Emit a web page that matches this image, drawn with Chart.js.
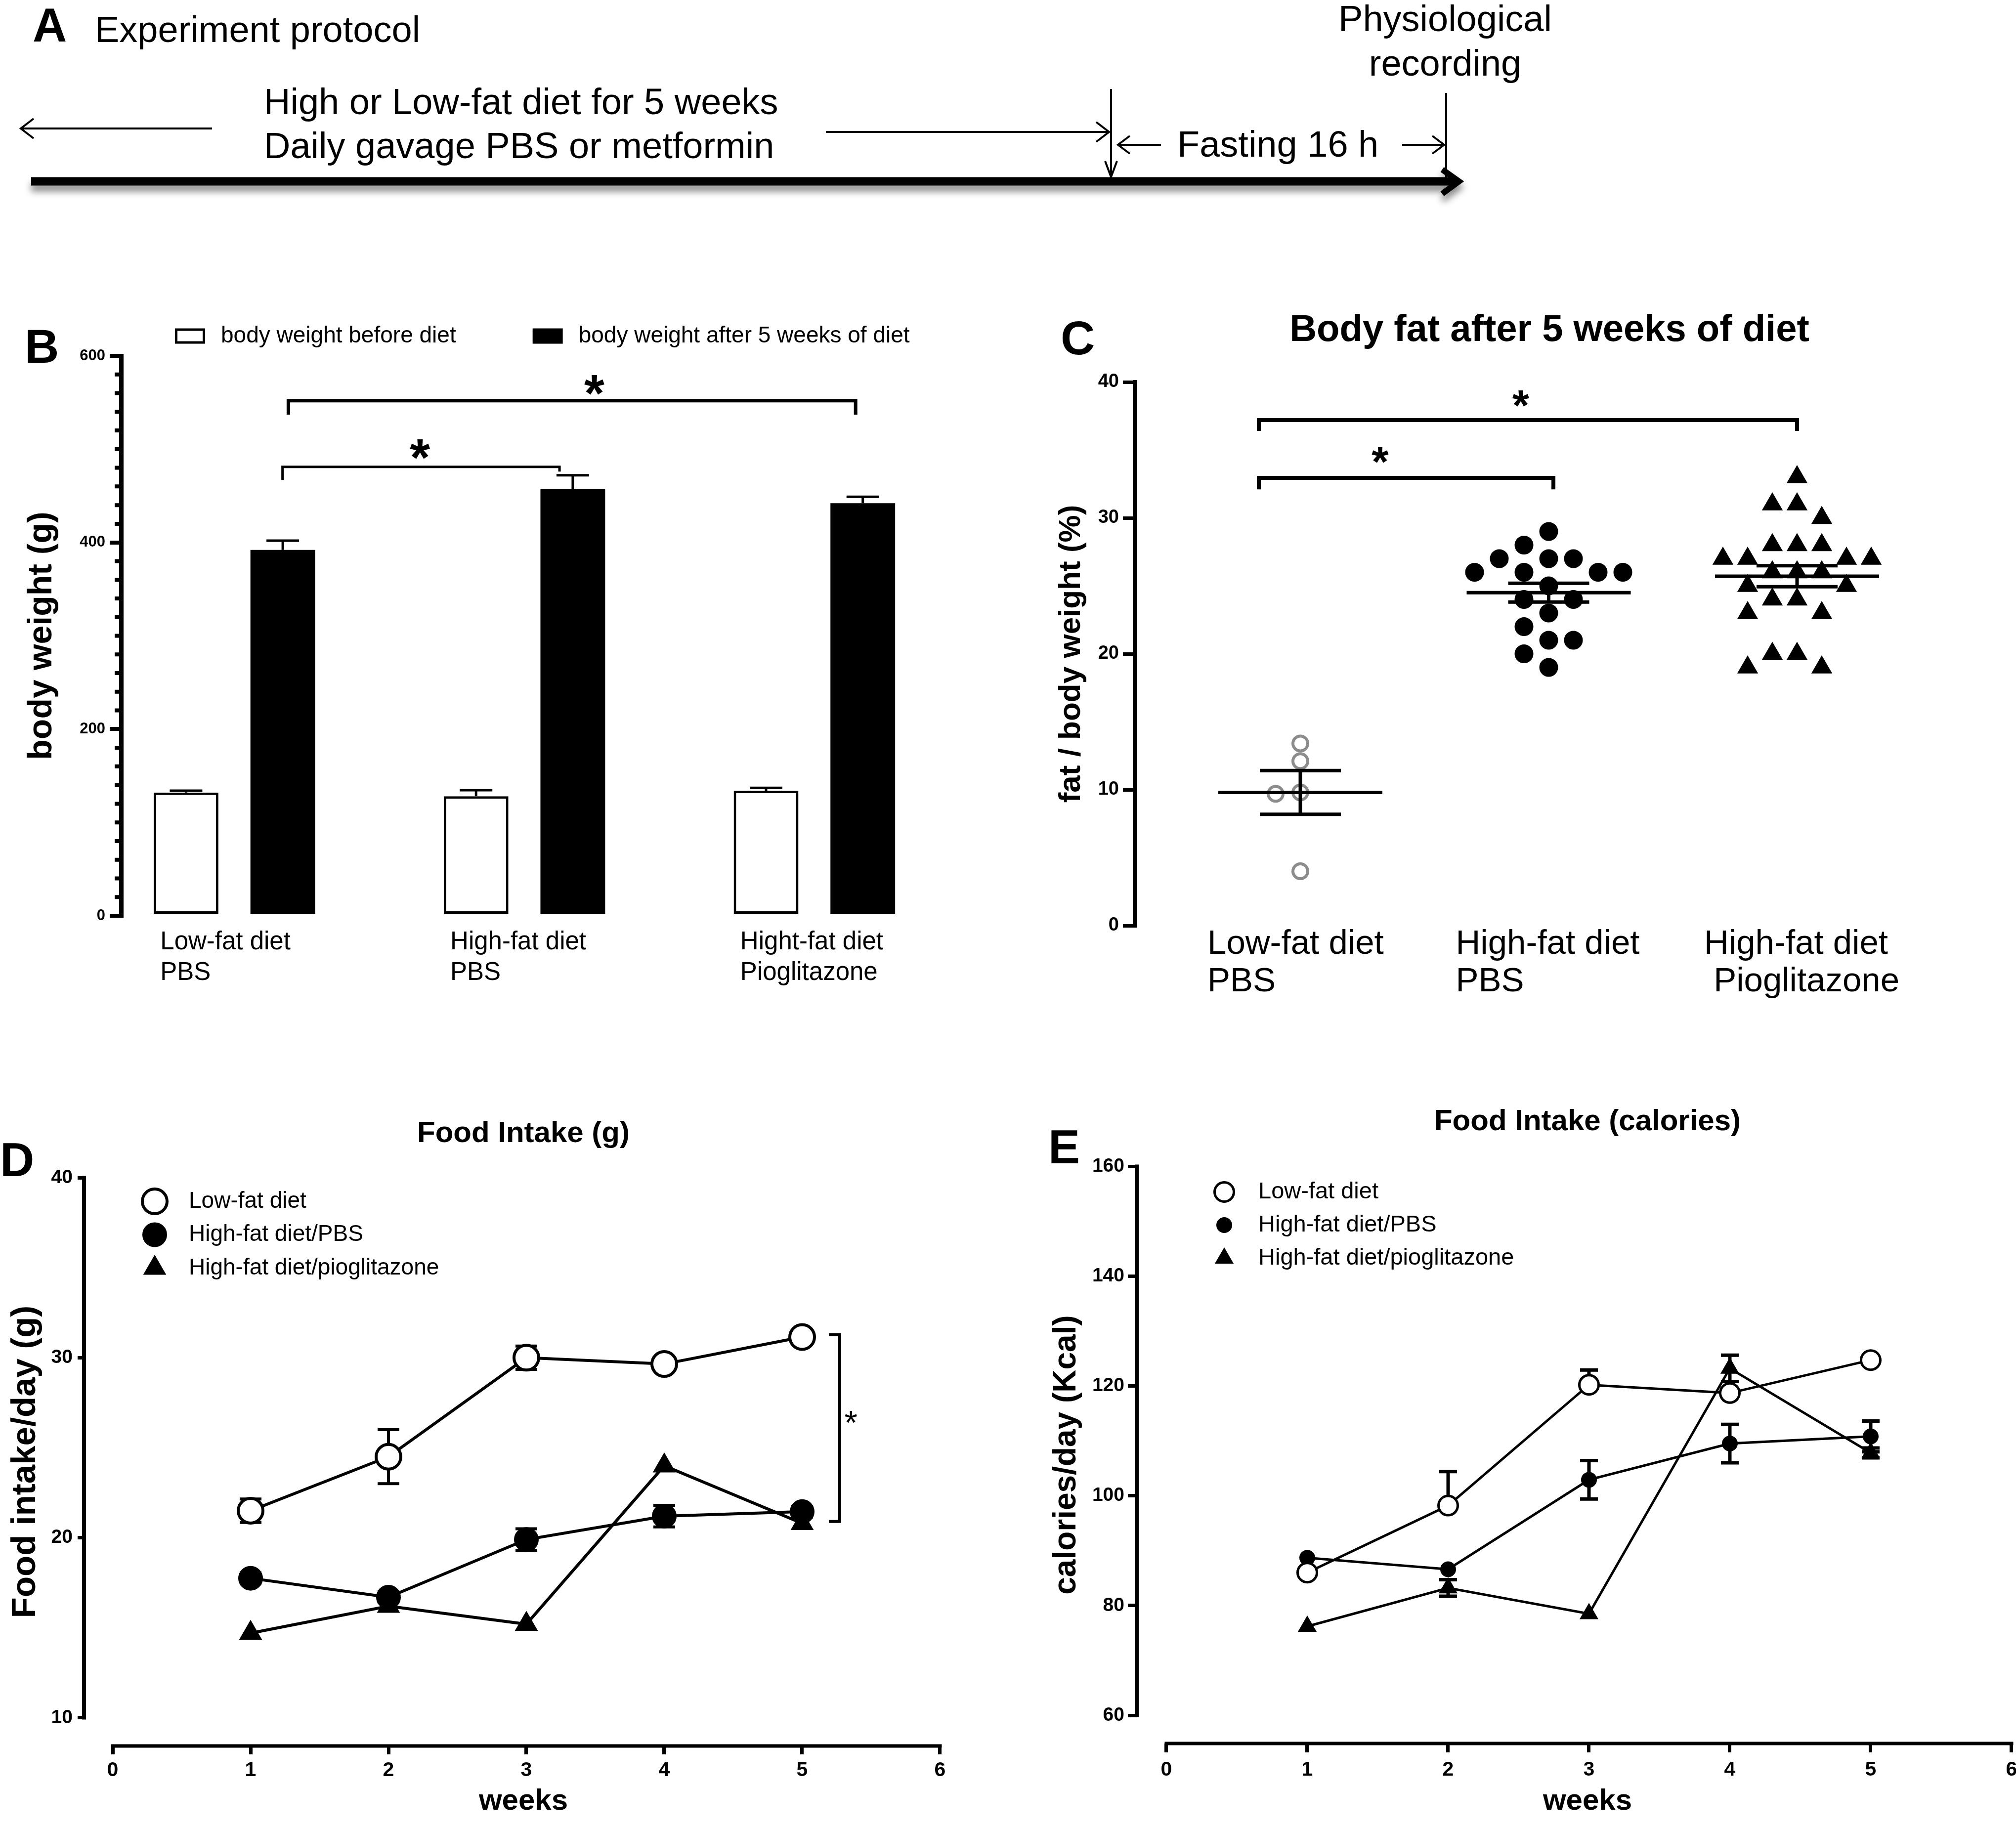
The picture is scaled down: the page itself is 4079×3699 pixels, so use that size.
<!DOCTYPE html>
<html>
<head>
<meta charset="utf-8">
<title>Diet, body weight, body fat and food intake</title>
<script src="https://cdn.jsdelivr.net/npm/chart.js@4.4.1/dist/chart.umd.min.js"></script>
<style>
  html, body { margin: 0; padding: 0; background: #fff; overflow: hidden; }
  #page { position: relative; width: 4079px; height: 3699px; overflow: hidden; background: #fff;
          font-family: "Liberation Sans", Arial, Helvetica, sans-serif; color: #000; }
  canvas { position: absolute; }
  .tag { position: absolute; font-weight: bold; font-size: 96px; line-height: 1; }
  svg { position: absolute; left: 0; top: 0; }
</style>
</head>
<body>
<div id="page">

  <!-- panel A: protocol timeline -->
  <svg width="4079" height="420" viewBox="0 0 4079 420" font-family='"Liberation Sans", Arial, sans-serif'>
    <defs>
      <filter id="shadow" x="-2%" y="-200%" width="104%" height="500%">
        <feDropShadow dx="0" dy="12" stdDeviation="7" flood-color="#000" flood-opacity="0.45"/>
      </filter>
    </defs>
    <text x="66" y="84" font-size="96" font-weight="bold">A</text>
    <text x="192" y="85" font-size="74">Experiment protocol</text>
    <text x="2924" y="63" font-size="74" text-anchor="middle">Physiological</text>
    <text x="2924" y="153" font-size="74" text-anchor="middle">recording</text>
    <text x="534" y="231" font-size="74">High or Low-fat diet for 5 weeks</text>
    <text x="534" y="320" font-size="74">Daily gavage PBS or metformin</text>
    <text x="2382" y="317" font-size="74">Fasting 16 h</text>
    <g stroke="#000" stroke-width="4" fill="none">
      <path d="M429 260 H42 M68 240 L42 260 L68 280"/>
      <path d="M1671 267 H2244 M2218 247 L2244 267 L2218 287"/>
      <path d="M2248 180 V358 M2236 326 L2248 358 L2260 326"/>
      <path d="M2349 293 H2262 M2286 275 L2262 293 L2286 311"/>
      <path d="M2837 293 H2922 M2898 275 L2922 293 L2898 311"/>
      <path d="M2926 188 V360"/>
    </g>
    <g filter="url(#shadow)" stroke="#000" fill="none">
      <path d="M63 367 H2946" stroke-width="17"/>
      <path d="M2918 343 L2952 367 L2918 392" stroke-width="12"/>
    </g>
  </svg>

  <div class="tag" style="left:50px;top:653px">B</div>
  <div class="tag" style="left:2146px;top:636px">C</div>
  <div class="tag" style="left:0px;top:2299px">D</div>
  <div class="tag" style="left:2121px;top:2273px">E</div>

  <canvas id="fig-b" width="1960" height="1500" style="left:0px;top:600px"></canvas>
  <canvas id="fig-c" width="2070" height="1500" style="left:2100px;top:600px"></canvas>
  <canvas id="fig-d" width="2118" height="1499" style="left:0px;top:2200px"></canvas>
  <canvas id="fig-e" width="2224" height="1549" style="left:2100px;top:2150px"></canvas>
</div>

<script>
// ---------- data ----------

// B: body weight (g), mean and SEM
const groupLabels = [['Low-fat diet', 'PBS'], ['High-fat diet', 'PBS'], ['Hight-fat diet', 'Pioglitazone']];
const weightBefore = [132, 128, 134];
const weightBeforeSem = [2, 6.5, 3];
const weightAfter = [392, 457, 442];
const weightAfterSem = [10, 15, 7];
const weightTicks = [0, 200, 400, 600];

// C: body fat (% of body weight), one value per animal
const fatGroupLabels = [['Low-fat diet', 'PBS'], ['High-fat diet', 'PBS'], ['High-fat diet', ' Pioglitazone']];
const fatLowPbs = [13.4, 12.1, 9.8, 9.7, 4.0];
const fatHighPbs = [29, 28, 27, 27, 27, 26, 26, 26, 26, 25, 24, 24, 23, 22, 21, 21, 20, 19];
const fatHighPio = [33, 31, 31, 30, 28, 28, 28, 27, 27, 27, 27, 26, 26, 26, 25, 25, 24, 24, 23, 23, 20, 20, 19, 19];
const fatTicks = [0, 10, 20, 30, 40];

// D and E: food intake per week
const weeks = [1, 2, 3, 4, 5];
const weekTicks = [0, 1, 2, 3, 4, 5, 6];
const seriesNames = ['Low-fat diet', 'High-fat diet/PBS', 'High-fat diet/pioglitazone'];

const gramsLow = [21.5, 24.5, 30.0, 29.65, 31.15];
const gramsLowSem = [0.65, 1.5, 0.65, 0.3, 0.3];
const gramsPbs = [17.75, 16.7, 19.9, 21.2, 21.45];
const gramsPbsSem = [0.3, 0.3, 0.6, 0.6, 0.3];
const gramsPio = [14.7, 16.2, 15.2, 24.0, 20.8];
const gramTicks = [10, 20, 30, 40];

const kcalLow = [86.0, 98.2, 120.2, 118.7, 124.7];
const kcalLowSemUp = [0, 6.2, 2.7, 0, 0];
const kcalPbs = [88.7, 86.6, 102.9, 109.5, 110.8];
const kcalPbsSem = [0, 0, 3.5, 3.5, 2.8];
const kcalPio = [76.2, 83.2, 78.5, 123.2, 107.8];
const kcalPioSem = [0, 1.5, 0, 2.4, 0.9];
const kcalTicks = [60, 80, 100, 120, 140, 160];

// ---------- setup ----------

const FONT = '"Liberation Sans", Arial, Helvetica, sans-serif';
Chart.defaults.font.family = FONT;
Chart.defaults.color = '#000';
Chart.defaults.animation = false;
Chart.defaults.events = [];
Chart.defaults.plugins.legend.display = false;
Chart.defaults.plugins.tooltip.enabled = false;

function fixWidth(w) { return s => { s.width = w; }; }
function fixHeight(h) { return s => { s.height = h; }; }
function setTicks(values) { return s => { s.ticks = values.map(v => ({ value: v })); }; }

// empty right-hand axis, so the title and the x axis share one centre
function blankAxis(width) {
  return { position: 'right', display: true, afterFit: fixWidth(width),
           grid: { display: false }, border: { display: false }, ticks: { display: false } };
}

function drawMarker(ctx, ds, px, py) {
  const r = ds.pointRadius;
  ctx.beginPath();
  if (ds.pointStyle === 'triangle') {
    ctx.moveTo(px, py - r);
    ctx.lineTo(px + r * 0.866, py + r / 2);
    ctx.lineTo(px - r * 0.866, py + r / 2);
    ctx.closePath();
  } else {
    ctx.arc(px, py, r, 0, Math.PI * 2);
  }
  ctx.fillStyle = ds.pointBackgroundColor;
  ctx.fill();
  if (ds.pointBorderWidth) {
    ctx.lineWidth = ds.pointBorderWidth;
    ctx.strokeStyle = ds.pointBorderColor;
    ctx.stroke();
  }
}

function drawStar(ctx, px, py, size, weight) {
  ctx.font = `${weight} ${size}px ${FONT}`;
  ctx.textAlign = 'left';
  ctx.textBaseline = 'alphabetic';
  const m = ctx.measureText('*');
  const x = px + (m.actualBoundingBoxLeft - m.actualBoundingBoxRight) / 2;
  const y = py + (m.actualBoundingBoxAscent - m.actualBoundingBoxDescent) / 2;
  ctx.fillText('*', x, y);
}

// ---------- plugins ----------

function drawSem(chart, o) {
  const { ctx, scales: { y } } = chart;
  ctx.save();
  ctx.strokeStyle = '#000';
  ctx.lineWidth = o.width;
  ctx.lineCap = 'butt';
  chart.data.datasets.forEach((ds, di) => {
    if (!ds.errUp && !ds.errDown) return;
    chart.getDatasetMeta(di).data.forEach((el, i) => {
      const v = ds.data[i].y;
      [[ds.errUp, 1], [ds.errDown, -1]].forEach(([errs, sign]) => {
        if (!errs || !errs[i]) return;
        const end = y.getPixelForValue(v + sign * errs[i]);
        ctx.beginPath();
        ctx.moveTo(el.x, y.getPixelForValue(v));
        ctx.lineTo(el.x, end);
        ctx.moveTo(el.x - o.cap, end);
        ctx.lineTo(el.x + o.cap, end);
        ctx.stroke();
      });
    });
  });
  ctx.restore();
}

const semBars = {
  id: 'semBars',
  beforeDatasetsDraw(chart, args, o) { if (o.width && !o.front) drawSem(chart, o); },
  afterDatasetsDraw(chart, args, o) { if (o.width && o.front) drawSem(chart, o); }
};

const minorTicks = {
  id: 'minorTicks',
  afterDraw(chart, args, o) {
    const { ctx, chartArea, scales: { y } } = chart;
    ctx.save();
    ctx.strokeStyle = '#000';
    ctx.lineWidth = o.width;
    ctx.beginPath();
    for (let v = y.min + o.step; v < y.max; v += o.step) {
      if (o.skip.includes(v)) continue;
      const py = y.getPixelForValue(v);
      ctx.moveTo(chartArea.left - o.length, py);
      ctx.lineTo(chartArea.left, py);
    }
    ctx.stroke();
    ctx.restore();
  }
};

// axis lines that run only between the first and the last tick
const offsetAxes = {
  id: 'offsetAxes',
  afterDraw(chart, args, o) {
    const { ctx, chartArea, scales: { x, y } } = chart;
    ctx.save();
    ctx.strokeStyle = '#000';
    ctx.lineCap = 'butt';
    ctx.lineWidth = o.xWidth;
    ctx.beginPath();
    ctx.moveTo(x.getPixelForValue(o.x[0]) - o.tick / 2, chartArea.bottom);
    ctx.lineTo(x.getPixelForValue(o.x[1]) + o.tick / 2, chartArea.bottom);
    ctx.stroke();
    ctx.lineWidth = o.yWidth;
    ctx.beginPath();
    ctx.moveTo(chartArea.left, y.getPixelForValue(o.y[0]) + o.tick / 2);
    ctx.lineTo(chartArea.left, y.getPixelForValue(o.y[1]) - o.tick / 2);
    ctx.stroke();
    ctx.restore();
  }
};

const keyLegend = {
  id: 'keyLegend',
  afterDraw(chart, args, o) {
    const ctx = chart.ctx;
    ctx.save();
    ctx.font = `${o.size}px ${FONT}`;
    ctx.textBaseline = 'middle';
    ctx.textAlign = 'left';
    let x = o.x, y = o.y;
    chart.data.datasets.forEach(ds => {
      if (o.box) {
        const [w, h] = o.box, bw = ds.borderWidth || 0;
        ctx.fillStyle = bw ? ds.borderColor : ds.backgroundColor;
        ctx.fillRect(x, y - h / 2, w, h);
        if (bw) {
          ctx.fillStyle = ds.backgroundColor;
          ctx.fillRect(x + bw, y - h / 2 + bw, w - 2 * bw, h - 2 * bw);
        }
        ctx.fillStyle = '#000';
        ctx.fillText(ds.label, x + w + o.textGap, y);
        x += w + o.textGap + ctx.measureText(ds.label).width + o.itemGap;
      } else {
        drawMarker(ctx, ds, x, y);
        ctx.fillStyle = '#000';
        ctx.fillText(ds.label, o.textX, y);
        y += o.dy;
      }
    });
    ctx.restore();
  }
};

const sigMarks = {
  id: 'sigMarks',
  afterDraw(chart, args, o) {
    const { ctx, scales: { x, y } } = chart;
    const X = v => x.getPixelForValue(v), Y = v => y.getPixelForValue(v);
    ctx.save();
    ctx.strokeStyle = '#000';
    ctx.fillStyle = '#000';
    ctx.lineCap = 'butt';
    ctx.lineJoin = 'miter';
    (o.brackets || []).forEach(b => {
      ctx.lineWidth = b.width;
      ctx.beginPath();
      if (b.side !== undefined) {
        ctx.moveTo(X(b.side), Y(b.from));
        ctx.lineTo(X(b.at), Y(b.from));
        ctx.lineTo(X(b.at), Y(b.to));
        ctx.lineTo(X(b.side), Y(b.to));
      } else {
        ctx.moveTo(X(b.from), Y(b.drop[0]));
        ctx.lineTo(X(b.from), Y(b.at));
        ctx.lineTo(X(b.to), Y(b.at));
        ctx.lineTo(X(b.to), Y(b.drop[1]));
      }
      ctx.stroke();
    });
    (o.stars || []).forEach(s => drawStar(ctx, X(s.x), Y(s.y), s.size, s.weight));
    ctx.restore();
  }
};

// mean line and SEM whiskers computed from each group's values
const meanSem = {
  id: 'meanSem',
  afterDatasetsDraw(chart, args, o) {
    const { ctx, scales: { x, y } } = chart;
    ctx.save();
    ctx.strokeStyle = '#000';
    ctx.lineWidth = o.width;
    ctx.lineCap = 'butt';
    chart.data.datasets.forEach(ds => {
      const v = ds.values, n = v.length;
      const mean = v.reduce((a, b) => a + b, 0) / n;
      const sd = Math.sqrt(v.reduce((a, b) => a + (b - mean) ** 2, 0) / (n - 1));
      const sem = sd / Math.sqrt(n);
      const cx = x.getPixelForValue(ds.group);
      const m = y.getPixelForValue(mean);
      const hi = y.getPixelForValue(mean + sem), lo = y.getPixelForValue(mean - sem);
      ctx.beginPath();
      ctx.moveTo(cx - o.meanHalf, m); ctx.lineTo(cx + o.meanHalf, m);
      ctx.moveTo(cx - o.semHalf, hi); ctx.lineTo(cx + o.semHalf, hi);
      ctx.moveTo(cx - o.semHalf, lo); ctx.lineTo(cx + o.semHalf, lo);
      ctx.moveTo(cx, hi); ctx.lineTo(cx, lo);
      ctx.stroke();
    });
    ctx.restore();
  }
};

// simple beeswarm: each point takes the nearest free slot beside the group centre
function swarm(values, group, c) {
  const placed = [];
  return values.map(v => {
    for (let k = 0; k < 80; k++) {
      const s = k === 0 ? 0 : (k % 2 ? -1 : 1) * Math.ceil(k / 2);
      const free = placed.every(p => Math.hypot((p.s - s) * c.slotPx, (p.v - v) * c.pxPerY) >= c.gap);
      if (free) {
        placed.push({ s, v });
        return { x: group + s * c.slotPx / c.pxPerX, y: v };
      }
    }
  });
}

function series(label, values, up, down, look, lineWidth) {
  return Object.assign({
    label,
    data: weeks.map((w, i) => ({ x: w, y: values[i] })),
    errUp: up, errDown: down,
    borderColor: '#000', borderWidth: lineWidth, tension: 0,
    pointBorderColor: '#000'
  }, look);
}

// ---------- B ----------

new Chart(document.getElementById('fig-b'), {
  type: 'bar',
  data: {
    datasets: [
      { label: 'body weight before diet', data: weightBefore.map((v, i) => ({ x: i + 1, y: v })),
        errUp: weightBeforeSem, backgroundColor: '#fff', borderColor: '#000', borderWidth: 5,
        borderSkipped: false, categoryPercentage: 0.667, barPercentage: 0.669 },
      { label: 'body weight after 5 weeks of diet', data: weightAfter.map((v, i) => ({ x: i + 1, y: v })),
        errUp: weightAfterSem, backgroundColor: '#000', borderWidth: 0,
        categoryPercentage: 0.667, barPercentage: 0.669 }
    ]
  },
  options: {
    responsive: false,
    devicePixelRatio: 1,
    layout: { padding: { top: 120 } },
    scales: {
      x: {
        type: 'linear', min: 0.6093, max: 3.4249, offset: false,
        afterFit: fixHeight(247), afterBuildTicks: setTicks([1, 2, 3]),
        grid: { display: false, drawTicks: false, offset: false }, border: { display: false },
        ticks: { callback: v => groupLabels[v - 1], align: 'start', labelOffset: -150, padding: 23,
                 maxRotation: 0, minRotation: 0, autoSkip: false, font: { size: 51, lineHeight: 1.216 } }
      },
      y: {
        min: 0, max: 600, afterFit: fixWidth(245), afterBuildTicks: setTicks(weightTicks),
        grid: { drawOnChartArea: false, tickLength: 23, lineWidth: 8, color: '#000' },
        border: { width: 9, color: '#000' },
        ticks: { padding: 9, font: { size: 31, weight: 'bold' } },
        title: { display: true, text: 'body weight (g)', font: { size: 68, weight: 'bold', lineHeight: 1 },
                 padding: { top: 51 } }
      }
    },
    plugins: {
      semBars: { width: 5, cap: 33, front: true },
      minorTicks: { step: 20, length: 13, width: 8, skip: weightTicks },
      keyLegend: { x: 354, y: 80, box: [61, 31], textGap: 32, itemGap: 155, size: 46 },
      sigMarks: {
        brackets: [
          { from: 1.166, to: 2.121, at: 481, drop: [467, 476], width: 5 },
          { from: 1.186, to: 3.142, at: 552, drop: [537, 537], width: 7 }
        ],
        stars: [
          { x: 1.64, y: 500, size: 105, weight: 'bold' },
          { x: 2.241, y: 569, size: 105, weight: 'bold' }
        ]
      }
    }
  },
  plugins: [semBars, minorTicks, keyLegend, sigMarks]
});

// ---------- C ----------

const cSwarm = { slotPx: 50, pxPerX: 502.5, pxPerY: 27.5, gap: 35 };

new Chart(document.getElementById('fig-c'), {
  type: 'scatter',
  data: {
    datasets: [
      { label: 'Low-fat diet PBS', values: fatLowPbs, group: 1, data: swarm(fatLowPbs, 1, cSwarm),
        pointStyle: 'circle', pointRadius: 15, pointBorderWidth: 6,
        pointBackgroundColor: '#fff', pointBorderColor: '#8c8c8c' },
      { label: 'High-fat diet PBS', values: fatHighPbs, group: 2, data: swarm(fatHighPbs, 2, cSwarm),
        pointStyle: 'circle', pointRadius: 18, pointBorderWidth: 2,
        pointBackgroundColor: '#000', pointBorderColor: '#000' },
      { label: 'High-fat diet Pioglitazone', values: fatHighPio, group: 3, data: swarm(fatHighPio, 3, cSwarm),
        pointStyle: 'triangle', pointRadius: 23, pointBorderWidth: 1.5,
        pointBackgroundColor: '#000', pointBorderColor: '#000' }
    ]
  },
  options: {
    responsive: false,
    devicePixelRatio: 1,
    scales: {
      x: {
        type: 'linear', min: 1 / 3, max: 3.6726,
        afterFit: fixHeight(227), afterBuildTicks: setTicks([1, 2, 3]),
        grid: { display: false, drawTicks: false }, border: { display: false },
        ticks: { callback: v => fatGroupLabels[v - 1], align: 'start', labelOffset: -188, padding: 0,
                 maxRotation: 0, minRotation: 0, autoSkip: false, font: { size: 69, lineHeight: 1.1 } }
      },
      y: {
        min: 0, max: 40, afterFit: fixWidth(196), afterBuildTicks: setTicks(fatTicks),
        grid: { drawOnChartArea: false, tickLength: 24, lineWidth: 7, color: '#000' },
        border: { width: 8, color: '#000' },
        ticks: { padding: 8, font: { size: 38, weight: 'bold' } },
        title: { display: true, text: 'fat / body weight (%)', font: { size: 62, weight: 'bold', lineHeight: 1 },
                 padding: { top: 37 } }
      },
      pad: blankAxis(196)
    },
    plugins: {
      title: { display: true, text: 'Body fat after 5 weeks of diet',
               font: { size: 76, weight: 'bold', lineHeight: 1 }, padding: { top: 31, bottom: 66 } },
      meanSem: { width: 7, meanHalf: 166, semHalf: 82 },
      sigMarks: {
        brackets: [
          { from: 0.833, to: 2.019, at: 32.95, drop: [32.1, 32.1], width: 8 },
          { from: 0.833, to: 3.0, at: 37.2, drop: [36.4, 36.4], width: 8 }
        ],
        stars: [
          { x: 1.322, y: 34.65, size: 88, weight: 'bold' },
          { x: 1.888, y: 38.8, size: 88, weight: 'bold' }
        ]
      }
    }
  },
  plugins: [meanSem, sigMarks]
});

// ---------- D ----------

const dOpen = { pointStyle: 'circle', pointRadius: 25, pointBorderWidth: 6, pointBackgroundColor: '#fff' };
const dDot = { pointStyle: 'circle', pointRadius: 24, pointBorderWidth: 2, pointBackgroundColor: '#000' };
const dTri = { pointStyle: 'triangle', pointRadius: 25, pointBorderWidth: 2, pointBackgroundColor: '#000' };

new Chart(document.getElementById('fig-d'), {
  type: 'line',
  data: {
    datasets: [
      series(seriesNames[0], gramsLow, gramsLowSem, gramsLowSem, dOpen, 6),
      series(seriesNames[1], gramsPbs, gramsPbsSem, gramsPbsSem, dDot, 6),
      series(seriesNames[2], gramsPio, null, null, dTri, 6)
    ]
  },
  options: {
    responsive: false,
    devicePixelRatio: 1,
    scales: {
      x: {
        type: 'linear', min: -0.2079, max: 6.1649,
        afterFit: fixHeight(166), afterBuildTicks: setTicks(weekTicks),
        grid: { drawOnChartArea: false, tickLength: 17, lineWidth: 7, color: '#000' },
        border: { display: false },
        ticks: { padding: 12.5, font: { size: 41, weight: 'bold', lineHeight: 1 } },
        title: { display: true, text: 'weeks', font: { size: 60, weight: 'bold', lineHeight: 1 },
                 padding: { bottom: 24 } }
      },
      y: {
        min: 8.4354, max: 40, afterFit: fixWidth(170), afterBuildTicks: setTicks(gramTicks),
        grid: { drawOnChartArea: false, tickLength: 13, lineWidth: 7, color: '#000' },
        border: { display: false },
        ticks: { padding: 10, font: { size: 39, weight: 'bold' } },
        title: { display: true, text: 'Food intake/day (g)', font: { size: 69, weight: 'bold', lineHeight: 1 },
                 padding: { top: 17.5 } }
      },
      pad: blankAxis(170)
    },
    plugins: {
      title: { display: true, text: 'Food Intake (g)', font: { size: 60, weight: 'bold', lineHeight: 1 },
               padding: { top: 64, bottom: 59 } },
      semBars: { width: 6, cap: 22 },
      offsetAxes: { x: [weekTicks[0], weekTicks[weekTicks.length - 1]],
                    y: [gramTicks[0], gramTicks[gramTicks.length - 1]], xWidth: 7, yWidth: 8, tick: 7 },
      keyLegend: { x: 313, y: 231, dy: 67.5, textX: 382, size: 46 },
      sigMarks: {
        brackets: [{ side: 5.194, at: 5.272, from: 31.28, to: 20.9, width: 6 }],
        stars: [{ x: 5.355, y: 26.7, size: 68, weight: 'normal' }]
      }
    }
  },
  plugins: [semBars, offsetAxes, keyLegend, sigMarks]
});

// ---------- E ----------

const eOpen = { pointStyle: 'circle', pointRadius: 19.5, pointBorderWidth: 5, pointBackgroundColor: '#fff' };
const eDot = { pointStyle: 'circle', pointRadius: 15, pointBorderWidth: 2, pointBackgroundColor: '#000' };
const eTri = { pointStyle: 'triangle', pointRadius: 20, pointBorderWidth: 2, pointBackgroundColor: '#000' };

new Chart(document.getElementById('fig-e'), {
  type: 'line',
  data: {
    datasets: [
      series(seriesNames[0], kcalLow, kcalLowSemUp, null, eOpen, 5),
      series(seriesNames[1], kcalPbs, kcalPbsSem, kcalPbsSem, eDot, 5),
      series(seriesNames[2], kcalPio, kcalPioSem, kcalPioSem, eTri, 5)
    ]
  },
  options: {
    responsive: false,
    devicePixelRatio: 1,
    scales: {
      x: {
        type: 'linear', min: -0.2105, max: 6.1895,
        afterFit: fixHeight(171), afterBuildTicks: setTicks(weekTicks),
        grid: { drawOnChartArea: false, tickLength: 18, lineWidth: 7, color: '#000' },
        border: { display: false },
        ticks: { padding: 15.5, font: { size: 41, weight: 'bold', lineHeight: 1 } },
        title: { display: true, text: 'weeks', font: { size: 60, weight: 'bold', lineHeight: 1 },
                 padding: { bottom: 24 } }
      },
      y: {
        min: 54.87, max: 160, afterFit: fixWidth(200), afterBuildTicks: setTicks(kcalTicks),
        grid: { drawOnChartArea: false, tickLength: 18, lineWidth: 7, color: '#000' },
        border: { display: false },
        ticks: { padding: 7, font: { size: 39, weight: 'bold' } },
        title: { display: true, text: 'calories/day (Kcal)', font: { size: 64, weight: 'bold', lineHeight: 1 },
                 padding: { top: 26 } }
      },
      pad: blankAxis(200)
    },
    plugins: {
      title: { display: true, text: 'Food Intake (calories)', font: { size: 60, weight: 'bold', lineHeight: 1 },
               padding: { top: 90, bottom: 60 } },
      semBars: { width: 7, cap: 18 },
      offsetAxes: { x: [weekTicks[0], weekTicks[weekTicks.length - 1]],
                    y: [kcalTicks[0], kcalTicks[kcalTicks.length - 1]], xWidth: 7, yWidth: 8, tick: 7 },
      keyLegend: { x: 377, y: 262, dy: 67, textX: 446, size: 47 }
    }
  },
  plugins: [semBars, offsetAxes, keyLegend]
});
</script>
</body>
</html>
